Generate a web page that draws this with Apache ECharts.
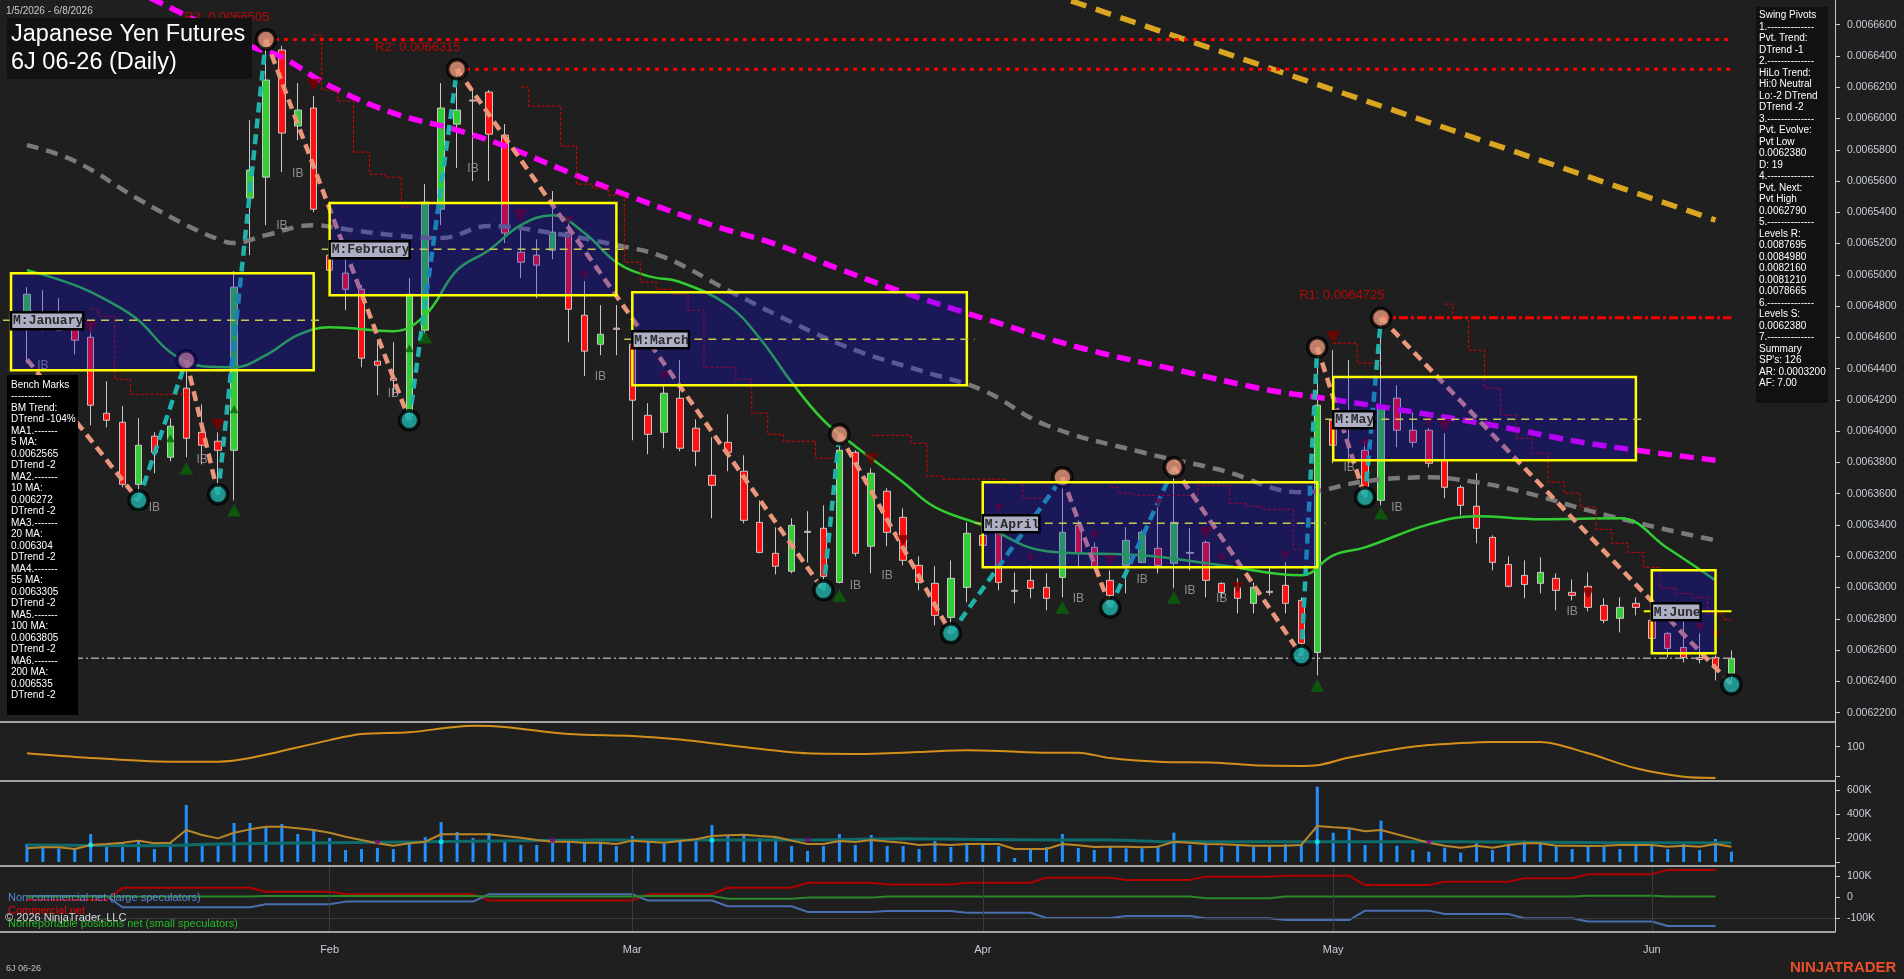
<!DOCTYPE html>
<html><head><meta charset="utf-8">
<script src="https://cdn.jsdelivr.net/npm/echarts@6/dist/echarts.min.js"></script>
<style>html,body{margin:0;padding:0;background:#1f1f1f;}#c{width:1904px;height:979px;}</style>
</head><body><div id="c"></div>
<script>
// ---------------- DATA ----------------
const dates = [
'2026-01-05','2026-01-06','2026-01-07','2026-01-08','2026-01-09','2026-01-12','2026-01-13','2026-01-14','2026-01-15','2026-01-16','2026-01-20','2026-01-21','2026-01-22','2026-01-23','2026-01-26','2026-01-27','2026-01-28','2026-01-29','2026-01-30',
'2026-02-02','2026-02-03','2026-02-04','2026-02-05','2026-02-06','2026-02-09','2026-02-10','2026-02-11','2026-02-12','2026-02-13','2026-02-17','2026-02-18','2026-02-19','2026-02-20','2026-02-23','2026-02-24','2026-02-25','2026-02-26','2026-02-27',
'2026-03-02','2026-03-03','2026-03-04','2026-03-05','2026-03-06','2026-03-09','2026-03-10','2026-03-11','2026-03-12','2026-03-13','2026-03-16','2026-03-17','2026-03-18','2026-03-19','2026-03-20','2026-03-23','2026-03-24','2026-03-25','2026-03-26','2026-03-27','2026-03-30','2026-03-31',
'2026-04-01','2026-04-02','2026-04-03','2026-04-06','2026-04-07','2026-04-08','2026-04-09','2026-04-10','2026-04-13','2026-04-14','2026-04-15','2026-04-16','2026-04-17','2026-04-20','2026-04-21','2026-04-22','2026-04-23','2026-04-24','2026-04-27','2026-04-28','2026-04-29','2026-04-30',
'2026-05-01','2026-05-04','2026-05-05','2026-05-06','2026-05-07','2026-05-08','2026-05-11','2026-05-12','2026-05-13','2026-05-14','2026-05-15','2026-05-18','2026-05-19','2026-05-20','2026-05-21','2026-05-22','2026-05-26','2026-05-27','2026-05-28','2026-05-29',
'2026-06-01','2026-06-02','2026-06-03','2026-06-04','2026-06-05','2026-06-08'];
const padDates = ['2026-06-09','2026-06-10','2026-06-11','2026-06-12','2026-06-15','2026-06-16'];
const monthStarts = ['2026-02-02','2026-03-02','2026-04-01','2026-05-01','2026-06-01'];
const monthLabels = ['Feb','Mar','Apr','May','Jun'];

const opens = [0.0064704,0.0064665,0.0064672,0.0064672,0.0064601,0.0064115,0.0064057,0.0063660,0.0063968,0.0063833,
0.0064275,0.0063993,0.0063936,0.0063878,0.0065491,0.0065625,0.0066438,0.0065952,0.0066067,0.0065126,
0.0065011,0.0064908,0.0064448,0.0064339,0.0064102,0.0064646,0.0065420,0.0065964,0.0066118,0.0066169,
0.0065894,0.0065145,0.0065126,0.0065158,0.0065273,0.0064742,0.0064556,0.0064659,0.0064556,0.0064102,
0.0063993,0.0064211,0.0064019,0.0063718,0.0063929,0.0063744,0.0063417,0.0063219,0.0063104,0.0063360,
0.0063379,0.0063033,0.0063865,0.0063264,0.0063616,0.0063449,0.0063142,0.0063027,0.0062809,0.0063001,
0.0063334,0.0063347,0.0062982,0.0063046,0.0063001,0.0063065,0.0063398,0.0063257,0.0063046,0.0063142,
0.0063161,0.0063251,0.0063155,0.0063225,0.0063289,0.0063027,0.0063001,0.0062899,0.0062976,0.0063014,
0.0062918,0.0062585,0.0064070,0.0064057,0.0063878,0.0063558,0.0064211,0.0064006,0.0064006,0.0063814,
0.0063641,0.0063520,0.0063321,0.0063148,0.0063078,0.0063027,0.0063059,0.0062969,0.0063008,0.0062886,
0.0062803,0.0062899,0.0062790,0.0062707,0.0062617,0.0062553,0.0062553,0.0062451];
const closes = [0.0064876,0.0064652,0.0064646,0.0064582,0.0064166,0.0064070,0.0063660,0.0063910,0.0063865,0.0064032,
0.0063955,0.0063910,0.0063878,0.0064921,0.0065670,0.0066246,0.0065907,0.0066054,0.0065420,0.0065030,
0.0064908,0.0064467,0.0064422,0.0064326,0.0064876,0.0065465,0.0066067,0.0066054,0.0066112,0.0065900,
0.0065267,0.0065081,0.0065062,0.0065273,0.0064780,0.0064512,0.0064620,0.0064652,0.0064198,0.0063980,
0.0064243,0.0063891,0.0063872,0.0063654,0.0063865,0.0063430,0.0063225,0.0063136,0.0063398,0.0063353,
0.0063072,0.0063878,0.0063219,0.0063731,0.0063353,0.0063174,0.0063033,0.0062822,0.0063059,0.0063347,
0.0063270,0.0063033,0.0062976,0.0062995,0.0062931,0.0063353,0.0063219,0.0063129,0.0062950,0.0063302,
0.0063353,0.0063142,0.0063417,0.0063219,0.0063046,0.0062969,0.0062931,0.0063001,0.0062969,0.0062899,
0.0062643,0.0064166,0.0063910,0.0064025,0.0063641,0.0064147,0.0064006,0.0063929,0.0063795,0.0063641,
0.0063526,0.0063379,0.0063161,0.0063008,0.0063020,0.0063097,0.0062982,0.0062950,0.0062873,0.0062790,
0.0062873,0.0062873,0.0062675,0.0062611,0.0062553,0.0062540,0.0062489,0.0062547];
const lows = [0.0064435,0.0064640,0.0064640,0.0064492,0.0064038,0.0064025,0.0063641,0.0063558,0.0063731,0.0063808,
0.0063833,0.0063788,0.0063596,0.0063558,0.0065126,0.0065318,0.0065657,0.0065862,0.0065401,0.0064889,
0.0064774,0.0064409,0.0064230,0.0064230,0.0064070,0.0064620,0.0065318,0.0065683,0.0065600,0.0065600,
0.0065203,0.0064979,0.0064851,0.0065100,0.0064569,0.0064352,0.0064486,0.0064486,0.0063942,0.0063852,
0.0063891,0.0063872,0.0063776,0.0063443,0.0063744,0.0063411,0.0063219,0.0063084,0.0063091,0.0063161,
0.0062982,0.0063027,0.0063200,0.0063091,0.0063264,0.0063142,0.0062982,0.0062758,0.0062707,0.0062905,
0.0063174,0.0062982,0.0062899,0.0062931,0.0062854,0.0062937,0.0063123,0.0063123,0.0062873,0.0062963,
0.0063155,0.0063091,0.0062995,0.0063110,0.0062937,0.0062937,0.0062835,0.0062835,0.0062950,0.0062835,
0.0062566,0.0062438,0.0063795,0.0063795,0.0063577,0.0063526,0.0063897,0.0063897,0.0063769,0.0063571,
0.0063462,0.0063283,0.0063110,0.0063001,0.0062931,0.0062963,0.0062854,0.0062918,0.0062848,0.0062771,
0.0062713,0.0062822,0.0062662,0.0062553,0.0062521,0.0062515,0.0062406,0.0062380];
const highs = [0.0064921,0.0064902,0.0064851,0.0064704,0.0064684,0.0064320,0.0064160,0.0064083,0.0063993,0.0064083,
0.0064454,0.0064172,0.0063993,0.0065024,0.0065990,0.0066505,0.0066464,0.0066227,0.0066144,0.0065171,
0.0065113,0.0064934,0.0064582,0.0064569,0.0064979,0.0065580,0.0066227,0.0066315,0.0066182,0.0066182,
0.0065964,0.0065305,0.0065228,0.0065536,0.0065363,0.0064960,0.0064806,0.0064806,0.0064614,0.0064179,
0.0064288,0.0064454,0.0064076,0.0063961,0.0064108,0.0063846,0.0063558,0.0063385,0.0063443,0.0063488,
0.0063526,0.0063980,0.0063878,0.0063763,0.0063635,0.0063507,0.0063200,0.0063136,0.0063174,0.0063417,
0.0063398,0.0063379,0.0063097,0.0063142,0.0063091,0.0063705,0.0063430,0.0063289,0.0063110,0.0063385,
0.0063366,0.0063513,0.0063769,0.0063379,0.0063302,0.0063033,0.0063059,0.0063033,0.0063123,0.0063161,
0.0062937,0.0064537,0.0064518,0.0064454,0.0063942,0.0064725,0.0064294,0.0064121,0.0064019,0.0063987,
0.0063654,0.0063731,0.0063334,0.0063200,0.0063174,0.0063193,0.0063091,0.0063052,0.0063097,0.0062931,
0.0062937,0.0062937,0.0062809,0.0062713,0.0062822,0.0062707,0.0062566,0.0062598];

// moving averages / trend lines: [barIndex, price]
const ma20Pts = [[0,0.0065030],[3,0.0064934],[5,0.0064838],[7,0.0064710],[9,0.0064505],[11,0.0064416],[13,0.0064409],[15,0.0064486],[17,0.0064614],[19,0.0064665],[23,0.0064640],[25,0.0064742],[27,0.0065030],[29,0.0065158],[31,0.0065318],[33,0.0065382],[35,0.0065267],[37,0.0065081],[39,0.0064992],[41,0.0064954],[44,0.0064806],[46,0.0064595],[48,0.0064314],[50,0.0064070],[52,0.0063904],[55,0.0063674],[57,0.0063514],[60,0.0063398],[64,0.0063232],[70,0.0063206],[75,0.0063142],[80,0.0063078],[82,0.0063206],[84,0.0063257],[88,0.0063404],[91,0.0063456],[95,0.0063437],[100,0.0063443],[103,0.0063251],[106,0.0063046]];
const ma100Pts = [[0,0.0065830],[3,0.0065728],[7,0.0065484],[10,0.0065318],[12,0.0065228],[13,0.0065203],[15,0.0065254],[18,0.0065318],[20,0.0065292],[23,0.0065254],[26,0.0065235],[29,0.0065312],[33,0.0065267],[37,0.0065190],[40,0.0065113],[44,0.0064902],[48,0.0064697],[52,0.0064518],[56,0.0064390],[60,0.0064262],[64,0.0064038],[70,0.0063865],[75,0.0063750],[80,0.0063609],[84,0.0063680],[88,0.0063705],[91,0.0063673],[94,0.0063609],[98,0.0063494],[102,0.0063392],[106,0.0063302]];
const ma200Pts = [[4,0.0066956],[8,0.0066758],[14,0.0066464],[16,0.0066393],[19,0.0066208],[23,0.0066035],[27,0.0065926],[30,0.0065824],[34,0.0065657],[38,0.0065497],[43,0.0065318],[47,0.0065196],[51,0.0065037],[55,0.0064889],[60,0.0064723],[66,0.0064537],[72,0.0064396],[78,0.0064262],[81,0.0064217],[86,0.0064140],[92,0.0064038],[98,0.0063923],[106,0.0063814]];
const trendPts = [[64,0.0066806],[85,0.0066080],[106,0.0065350]];

// swing pivots (zigzag)
const pivotIdx = [0,7,10,12,15,24,27,50,51,58,65,68,72,80,81,84,85,107];
const pivotVal = [0.0064460,0.0063558,0.0064454,0.0063596,0.0066505,0.0064070,0.0066315,0.0062982,0.0063980,0.0062707,0.0063705,0.0062873,0.0063769,0.0062566,0.0064537,0.0063577,0.0064725,0.0062380];

// resistance levels
const rLevels = [{name:'R3', idx:15, val:0.0066505},{name:'R2', idx:27, val:0.0066315},{name:'R1', idx:85, val:0.0064725}];
const lastClose = 0.0062547;

// trailing stop step lines: start bar + values
const stopStarts = [4,18,31,53,68,82,89];
const stopVals = [
 [0.0064781,0.0064736,0.0064332,0.0064236,0.0064236,0.0064236,0.0064236],
 [0.0066534,0.0066182,0.0066112,0.0065785,0.0065644,0.0065625,0.0065433],
 [0.0066201,0.0066080,0.0066080,0.0065824,0.0065580,0.0065555,0.0065510,0.0065081,0.0064954,0.0064908,0.0064876,0.0064774,0.0064409,0.0064409,0.0064332,0.0064115,0.0063980,0.0063936,0.0063936,0.0063827,0.0063827],
 [0.0063974,0.0063974,0.0063974,0.0063923,0.0063712,0.0063693,0.0063693,0.0063693,0.0063693,0.0063667,0.0063571,0.0063571],
 [0.0063642,0.0063603,0.0063590,0.0063590,0.0063590,0.0063590,0.0063654,0.0063654,0.0063539,0.0063520,0.0063500,0.0063500,0.0063244],
 [0.0064563,0.0064563,0.0064435,0.0064435],
 [0.0064813,0.0064729,0.0064518,0.0064275,0.0064102,0.0063955,0.0063859,0.0063674,0.0063603,0.0063514,0.0063372,0.0063283,0.0063225,0.0063129,0.0062995,0.0062963,0.0062937,0.0062835,0.0062796]];

// monthly boxes: [firstBar, lastBar, top, bottom, mid]
const boxNames = ['M:January','M:February','M:March','M:April','M:May','M:June'];
const boxes = [[-0.9,18,0.0065011,0.0064390,0.0064710],[19,37,0.0065459,0.0064870,0.0065164],[38,59,0.0064889,0.0064294,0.0064588],[60,81,0.0063674,0.0063130,0.0063411],[82,101,0.0064346,0.0063814,0.0064077],[102,106,0.0063110,0.0062579,0.0062848]];

// markers [bar, price, size]
const downTri = [[4,0.0064665,14],[12,0.0064038,14],[18,0.0066214,14],[31,0.0065376,14],[34,0.0065350,9],[35,0.0064998,9],[40,0.0064352,9],[53,0.0063820,14],[55,0.0063302,12],[61,0.0063507,9],[63,0.0063187,9],[67,0.0063334,9],[68,0.0063174,12],[71,0.0063545,9],[74,0.0063347,14],[75,0.0063187,9],[76,0.0063001,12],[79,0.0063206,9],[82,0.0064601,14],[84,0.0063923,9],[88,0.0064058,9],[89,0.0064038,14],[98,0.0062963,12],[105,0.0062745,9],[106,0.0062694,9]];
const upTri = [[7,0.0063513,9],[9,0.0063955,9],[10,0.0063763,14],[13,0.0063494,14],[13,0.0064140,9],[24,0.0064531,9],[25,0.0064602,14],[51,0.0062950,14],[65,0.0062873,14],[72,0.0062937,14],[81,0.0062374,14],[85,0.0063475,14]];
const ibMarks = [[1,0.0064422],[8,0.0063513],[11,0.0063820],[16,0.0065312],[17,0.0065645],[23,0.0064237],[28,0.0065676],[36,0.0064346],[52,0.0063014],[54,0.0063078],[66,0.0062931],[70,0.0063052],[73,0.0062982],[75,0.0062931],[83,0.0063769],[86,0.0063513],[97,0.0062848]];

// oscillator panel [bar, value]
const oscPts = [[0,89],[3,83],[9,75],[12,75],[14,81],[19,111],[21,121],[24,124],[28,135],[30,133],[34,121],[38,118],[41,112],[45,99.5],[49,89],[52,88],[56,91],[59,94],[61,93],[64,90],[66,90],[68,81],[71,75],[75,73],[77,69],[80,68],[81,69],[83,82],[87,100],[90,106],[92,108],[95,108],[98,89],[101,64],[104,50],[106,48]];

// volume panel
const volumes = [150000,128000,114000,114000,233000,136000,164000,183000,108000,164000,475000,150000,136000,325000,325000,300000,317000,233000,258000,200000,
100000,108000,117000,108000,175000,208000,333000,250000,200000,242000,183000,142000,142000,158000,167000,158000,158000,133000,217000,175000,
150000,181000,175000,308000,217000,233000,200000,203000,133000,92000,133000,233000,142000,225000,133000,133000,108000,175000,125000,158000,
158000,133000,33000,100000,125000,233000,117000,100000,125000,114000,114000,136000,244000,142000,144000,128000,142000,128000,128000,150000,
150000,628000,244000,272000,142000,344000,136000,100000,86000,119000,78000,161000,100000,150000,178000,161000,128000,108000,142000,128000,
108000,150000,169000,108000,150000,100000,192000,86000];
const volFastMA = [114000,122000,122000,108000,142000,150000,161000,178000,156000,161000,267000,225000,197000,244000,272000,294000,294000,281000,267000,244000,
211000,183000,156000,136000,156000,169000,231000,231000,231000,231000,217000,203000,183000,169000,169000,161000,161000,150000,178000,169000,
161000,175000,190000,217000,222000,227000,217000,208000,178000,150000,150000,175000,167000,183000,170000,161000,142000,147000,142000,150000,
150000,150000,108000,108000,108000,150000,139000,125000,128000,128000,122000,128000,169000,161000,150000,147000,142000,136000,136000,136000,
142000,300000,289000,281000,256000,267000,231000,197000,161000,136000,119000,136000,119000,142000,156000,156000,136000,136000,133000,136000,
142000,142000,142000,128000,136000,128000,150000,128000];
const volSlowPts = [[0,142000],[8,136000],[12,150000],[19,161000],[25,169000],[31,178000],[36,183000],[42,183000],[48,183000],[55,194000],[65,183000],[68,183000],[72,169000],[90,169000],[100,161000],[107,161000]];
const volCyanDots = [[4,142000],[26,169000],[43,181000],[81,169000]];
const volPurpleDots = [[22,169000],[33,183000],[49,186000],[88,169000]];

// COT panel: weekly values starting at given bar
const cotWeekStart = [0,6,10,15,20,25,29,34,39,44,49,54,59,64,69,74,79,84,89,94,98,103];
const cotLastBar = 106;
const cotCommercial = [-14000,44000,44000,25000,13000,13000,-17000,-17000,13000,44000,68000,59000,68000,92000,81000,97000,101000,57000,73000,89000,108000,129000];
const cotNonCommercial = [5000,-49000,-49000,-35000,-22000,-22000,13000,13000,-17000,-44000,-71000,-67000,-75000,-100000,-90000,-101000,-110000,-65000,-81000,-101000,-117000,-138000];
const cotNonReportable = [2000,2000,2000,5000,5000,5000,2000,2000,5000,-8000,-3000,2000,2000,2000,2000,-6000,2000,2000,2000,2000,6000,2000];

// axis tick labels
const priceTicks = [0.00622,0.00624,0.00626,0.00628,0.0063,0.00632,0.00634,0.00636,0.00638,0.0064,0.00642,0.00644,0.00646,0.00648,0.0065,0.00652,0.00654,0.00656,0.00658,0.0066,0.00662,0.00664,0.00666];
const oscTicks = [50,100], oscLabels = [100];
const volTicks = [0,200000,400000,600000], volLabels = [200000,400000,600000];
const cotTicks = [-100000,0,100000];

const swingText = ['Swing Pivots','1.--------------','Pvt. Trend:','DTrend -1','2.--------------','HiLo Trend:','Hi:0 Neutral','Lo:-2 DTrend','DTrend -2','3.--------------','Pvt. Evolve:','Pvt Low','0.0062380','D: 19','4.--------------','Pvt. Next:','Pvt High','0.0062790','5.--------------','Levels R:','0.0087695','0.0084980','0.0082160','0.0081210','0.0078665','6.--------------','Levels S:','0.0062380','7.--------------','Summary',"SP's: 126",'AR: 0.0003200','AF: 7.00'];
const benchText = ['Bench Marks','------------','BM Trend:','DTrend -104%','MA1.-------','5 MA:','0.0062565','DTrend -2','MA2.-------','10 MA:','0.006272','DTrend -2','MA3.-------','20 MA:','0.006304','DTrend -2','MA4.-------','55 MA:','0.0063305','DTrend -2','MA5.-------','100 MA:','0.0063805','DTrend -2','MA6.-------','200 MA:','0.006535','DTrend -2'];

// ---------------- CHART ----------------
const FONT = 'Liberation Sans, Arial, sans-serif';
const axisTxt = '#c8cdd8';
const allDates = dates.concat(padDates);
const chart = echarts.init(document.getElementById('c'));
const G = [{top:0,height:722},{top:722,height:59},{top:781,height:85},{top:866,height:66}];
const grids = G.map(g => ({left:19, right:69, top:g.top, height:g.height, containLabel:false}));
const isMonth = (i, v) => monthStarts.indexOf(v) >= 0;
const xAxes = grids.map((g, k) => ({
  type:'category', gridIndex:k, data:allDates, boundaryGap:true,
  axisLine:{show:false}, splitLine:{show:false},
  axisTick: k === 3 ? {show:true, alignWithLabel:true, interval:isMonth, length:5, lineStyle:{color:'#c8c8c8'}} : {show:false},
  axisLabel: k === 3 ? {show:true, interval:isMonth, formatter:v => monthLabels[monthStarts.indexOf(v)], color:axisTxt, fontSize:11, margin:12, fontFamily:FONT} : {show:false}
}));
function yAx(k, min, max, ticks, labels, fmt) {
  return {type:'value', gridIndex:k, position:'right', min:min, max:max,
    axisLine:{show:true, onZero:false, lineStyle:{color:'#c8c8c8', width:1}}, splitLine:{show:false},
    axisTick:{show:true, length:5, customValues:ticks, lineStyle:{color:'#c8c8c8'}},
    axisLabel:{show:true, customValues:labels, formatter:fmt, color:axisTxt, fontSize:10.5, margin:12, fontFamily:FONT}};
}
const yAxes = [
  yAx(0, 0.006214, 0.0066758, priceTicks, priceTicks, v => v.toFixed(7)),
  yAx(1, 42.8, 141.2, oscTicks, oscLabels, v => String(Math.round(v))),
  yAx(2, -33333, 675000, volTicks, volLabels, v => Math.round(v/1000) + 'K'),
  yAx(3, -166700, 147600, cotTicks, cotTicks, v => v === 0 ? '0' : Math.round(v/1000) + 'K')
];

const series = [];
// candles
series.push({type:'candlestick', xAxisIndex:0, yAxisIndex:0, barWidth:7, z:2,
  data: dates.map((d, i) => [opens[i], closes[i], lows[i], highs[i]]),
  itemStyle:{color:'#32cd32', color0:'#ff1010', borderColor:'#c8c8c8', borderColor0:'#c8c8c8', borderWidth:1}});
// MA lines
const lineS = (data, color, width, type, smooth, z) => ({type:'line', xAxisIndex:0, yAxisIndex:0, data:data, symbol:'none', smooth:smooth, z:z || 3, silent:true, lineStyle:{color:color, width:width, type:type}});
series.push(lineS(ma100Pts, '#7a7a7a', 4.5, [12,8], 0.4));
series.push(lineS(ma200Pts, '#ff00ff', 5.5, [14,8], 0.4));
series.push(lineS(trendPts, '#daa520', 5.5, [16,10], false));
series.push(lineS(ma20Pts, '#32cd32', 2.5, 'solid', 0.4));
// trailing stop steps
stopStarts.forEach((s, k) => {
  series.push({type:'line', xAxisIndex:0, yAxisIndex:0, step:'middle', symbol:'none', silent:true, z:3,
    data: stopVals[k].map((v, j) => [s + j, v]), lineStyle:{color:'#e00000', width:1, type:[3,2]}});
});
// current price dash-dot line
series.push(lineS([[0, lastClose],[107, lastClose]], '#a0a0a0', 1.5, [8,3,2,3], false));
// resistance lines + labels
rLevels.forEach(r => {
  series.push({type:'line', xAxisIndex:0, yAxisIndex:0, symbol:'none', silent:true, z:3,
    data:[[r.idx, r.val],[107, r.val]], lineStyle:{color:'#ff0000', width:3, type: r.name === 'R1' ? [9,3,3,3] : [4,5]}});
});
series.push({type:'scatter', xAxisIndex:0, yAxisIndex:0, symbolSize:1, silent:true, z:4,
  itemStyle:{color:'transparent'},
  data: rLevels.map(r => ({value:[r.idx, r.val], label:{formatter: r.name + ': ' + r.val.toFixed(7)}})),
  label:{show:true, position:'left', distance:0, offset:[4,-22], color:'#dd0000', fontSize:13, fontFamily:FONT}});
// zigzag legs
for (let k = 0; k < pivotIdx.length - 1; k++) {
  const up = pivotVal[k+1] > pivotVal[k];
  series.push({type:'line', xAxisIndex:0, yAxisIndex:0, symbol:'none', silent:true, z:3,
    data:[[pivotIdx[k], pivotVal[k]],[pivotIdx[k+1], pivotVal[k+1]]],
    lineStyle:{color: up ? '#20b2aa' : '#e9967a', width:4.5, type:[10,6]}});
}
// pivot circles
series.push({type:'scatter', xAxisIndex:0, yAxisIndex:0, symbolSize:19, silent:true, z:4,
  data: pivotIdx.slice(1).map((p, k) => {
    const i = k + 1; const isHigh = pivotVal[i] > pivotVal[i-1];
    return {value:[p, pivotVal[i]], itemStyle:{color: isHigh ? '#e9967a' : '#20b2aa', borderColor:'#000', borderWidth:3.5}};
  })});
// triangles
series.push({type:'scatter', xAxisIndex:0, yAxisIndex:0, symbol:'triangle', symbolRotate:180, silent:true, z:3,
  data: downTri.map(t => ({value:[t[0], t[1]], symbolSize:[t[2], t[2]*0.9]})), itemStyle:{color:'#7a0000'}});
series.push({type:'scatter', xAxisIndex:0, yAxisIndex:0, symbol:'triangle', silent:true, z:3,
  data: upTri.map(t => ({value:[t[0], t[1]], symbolSize:[t[2], t[2]*0.9]})), itemStyle:{color:'#0a640a'}});
// IB labels
series.push({type:'scatter', xAxisIndex:0, yAxisIndex:0, symbolSize:1, silent:true, z:3, itemStyle:{color:'transparent'},
  data: ibMarks, label:{show:true, position:'inside', formatter:'IB', color:'#a8a8a8', fontSize:12, fontFamily:FONT}});
// month boxes (drawn on top, translucent)
series.push({type:'custom', xAxisIndex:0, yAxisIndex:0, z:6, clip:false, silent:true,
  encode:{x:[0,1], y:[2,3,4]}, data: boxes,
  renderItem: (params, api) => {
    const tl = api.coord([api.value(0), api.value(2)]);
    const br = api.coord([api.value(1), api.value(3)]);
    const my = api.coord([api.value(0), api.value(4)])[1];
    const name = boxNames[params.dataIndex];
    const current = params.dataIndex === boxes.length - 1;
    const lw = name.length * 7.8 + 2;
    return {type:'group', children:[
      {type:'rect', shape:{x:tl[0], y:tl[1], width:br[0]-tl[0], height:br[1]-tl[1]}, style:{fill:'rgba(15,10,220,0.3)', stroke:'#ffff00', lineWidth:2.5}},
      {type:'line', shape:{x1:tl[0]-8, y1:my, x2:br[0]+(current ? 16 : 8), y2:my},
        style: current ? {stroke:'#ffff00', lineWidth:2} : {stroke:'#c8c850', lineWidth:1.5, lineDash:[8,6]}},
      {type:'rect', shape:{x:tl[0], y:my-8, width:lw, height:17}, style:{fill:'#aeaec4', stroke:'#000', lineWidth:2.5}},
      {type:'text', style:{text:name, x:tl[0]+2, y:my+1, verticalAlign:'middle', font:'bold 13px Liberation Mono, monospace', fill:'#2a2a2a'}}
    ]};
  }});
// oscillator
series.push({type:'line', xAxisIndex:1, yAxisIndex:1, data:oscPts, symbol:'none', silent:true, smooth:0.3, lineStyle:{color:'#d4901a', width:2}});
// volume
series.push({type:'bar', xAxisIndex:2, yAxisIndex:2, data:volumes, barWidth:3, silent:true, itemStyle:{color:'#1e90ff'}});
series.push({type:'line', xAxisIndex:2, yAxisIndex:2, data:volSlowPts, symbol:'none', silent:true, smooth:0.3, lineStyle:{color:'#0f6a6a', width:3}});
series.push({type:'line', xAxisIndex:2, yAxisIndex:2, data:volFastMA, symbol:'none', silent:true, lineStyle:{color:'#b8862a', width:2}});
series.push({type:'scatter', xAxisIndex:2, yAxisIndex:2, data:volCyanDots, symbolSize:5, silent:true, z:5, itemStyle:{color:'#00ffff'}});
series.push({type:'scatter', xAxisIndex:2, yAxisIndex:2, data:volPurpleDots, symbolSize:5, silent:true, z:5, itemStyle:{color:'#800080'}});
// COT lines
function cotData(vals) {
  const out = [];
  for (let i = 0; i <= cotLastBar; i++) {
    let w = 0; while (w + 1 < cotWeekStart.length && cotWeekStart[w+1] <= i) w++;
    out.push(vals[w]);
  }
  return out;
}
series.push({type:'line', xAxisIndex:3, yAxisIndex:3, data:cotData(cotCommercial), symbol:'none', silent:true, z:3, lineStyle:{color:'#b00000', width:2},
  markLine:{silent:true, symbol:'none', label:{show:false}, lineStyle:{color:'#3c3c3c', width:1, type:'solid'},
    data: monthStarts.map(m => ({xAxis:m})).concat([{yAxis:-100000}])}});
series.push({type:'line', xAxisIndex:3, yAxisIndex:3, data:cotData(cotNonCommercial), symbol:'none', silent:true, z:3, lineStyle:{color:'#4a6fb0', width:2}});
series.push({type:'line', xAxisIndex:3, yAxisIndex:3, data:cotData(cotNonReportable), symbol:'none', silent:true, z:3, lineStyle:{color:'#2a8a2a', width:2}});

// ---------------- decorations ----------------
const sepLine = y => ({type:'line', shape:{x1:0, y1:y, x2:1835, y2:y}, style:{stroke:'#d0d0d0', lineWidth:1.5}, z:50});
const graphic = [
  sepLine(722), sepLine(781), sepLine(866), sepLine(932),
  {type:'text', left:6, top:6, style:{text:'1/5/2026 - 6/8/2026', font:'10px ' + FONT, fill:'#c8c8c8'}, z:100},
  {type:'rect', shape:{x:7, y:18, width:245, height:61}, style:{fill:'#121212'}, z:100},
  {type:'text', x:11, y:35, style:{text:'Japanese Yen Futures', font:'23.5px ' + FONT, fill:'#ffffff', verticalAlign:'middle'}, z:101},
  {type:'text', x:11, y:63, style:{text:'6J 06-26 (Daily)', font:'23.5px ' + FONT, fill:'#ffffff', verticalAlign:'middle'}, z:101},
  {type:'rect', shape:{x:1756, y:7, width:72, height:396}, style:{fill:'#111111'}, z:100},
  {type:'text', x:1759, y:10, style:{text:swingText.join('\n'), font:'10px ' + FONT, lineHeight:11.49, fill:'#ffffff', verticalAlign:'top'}, z:101},
  {type:'rect', shape:{x:7, y:375, width:71, height:340}, style:{fill:'#000000'}, z:100},
  {type:'text', x:11, y:379, style:{text:benchText.join('\n'), font:'10px ' + FONT, lineHeight:11.5, fill:'#ffffff', verticalAlign:'top'}, z:101},
  {type:'text', x:8, y:898, style:{text:'Non-commercial net (large speculators)', font:'11px ' + FONT, fill:'#5a86e0', verticalAlign:'middle'}, z:100},
  {type:'text', x:8, y:911, style:{text:'Commercial net', font:'11px ' + FONT, fill:'#ee0000', verticalAlign:'middle'}, z:100},
  {type:'text', x:8, y:924, style:{text:'Nonreportable positions net (small speculators)', font:'11px ' + FONT, fill:'#22bb22', verticalAlign:'middle'}, z:100},
  {type:'text', x:5, y:918, style:{text:'\u00a9 2026 NinjaTrader, LLC', font:'11px ' + FONT, fill:'#d8d8d8', verticalAlign:'middle'}, z:101},
  {type:'text', x:6, y:969, style:{text:'6J 06-26', font:'9px ' + FONT, fill:'#c0c0c0', verticalAlign:'middle'}, z:100},
  {type:'text', x:1790, y:968, style:{text:'NINJATRADER', font:'bold 15px ' + FONT, fill:'#e8502a', verticalAlign:'middle'}, z:100}
];

chart.setOption({
  backgroundColor:'#1f1f1f', animation:false,
  textStyle:{fontFamily:FONT},
  grid:grids, xAxis:xAxes, yAxis:yAxes, series:series, graphic:graphic
});
</script></body></html>
